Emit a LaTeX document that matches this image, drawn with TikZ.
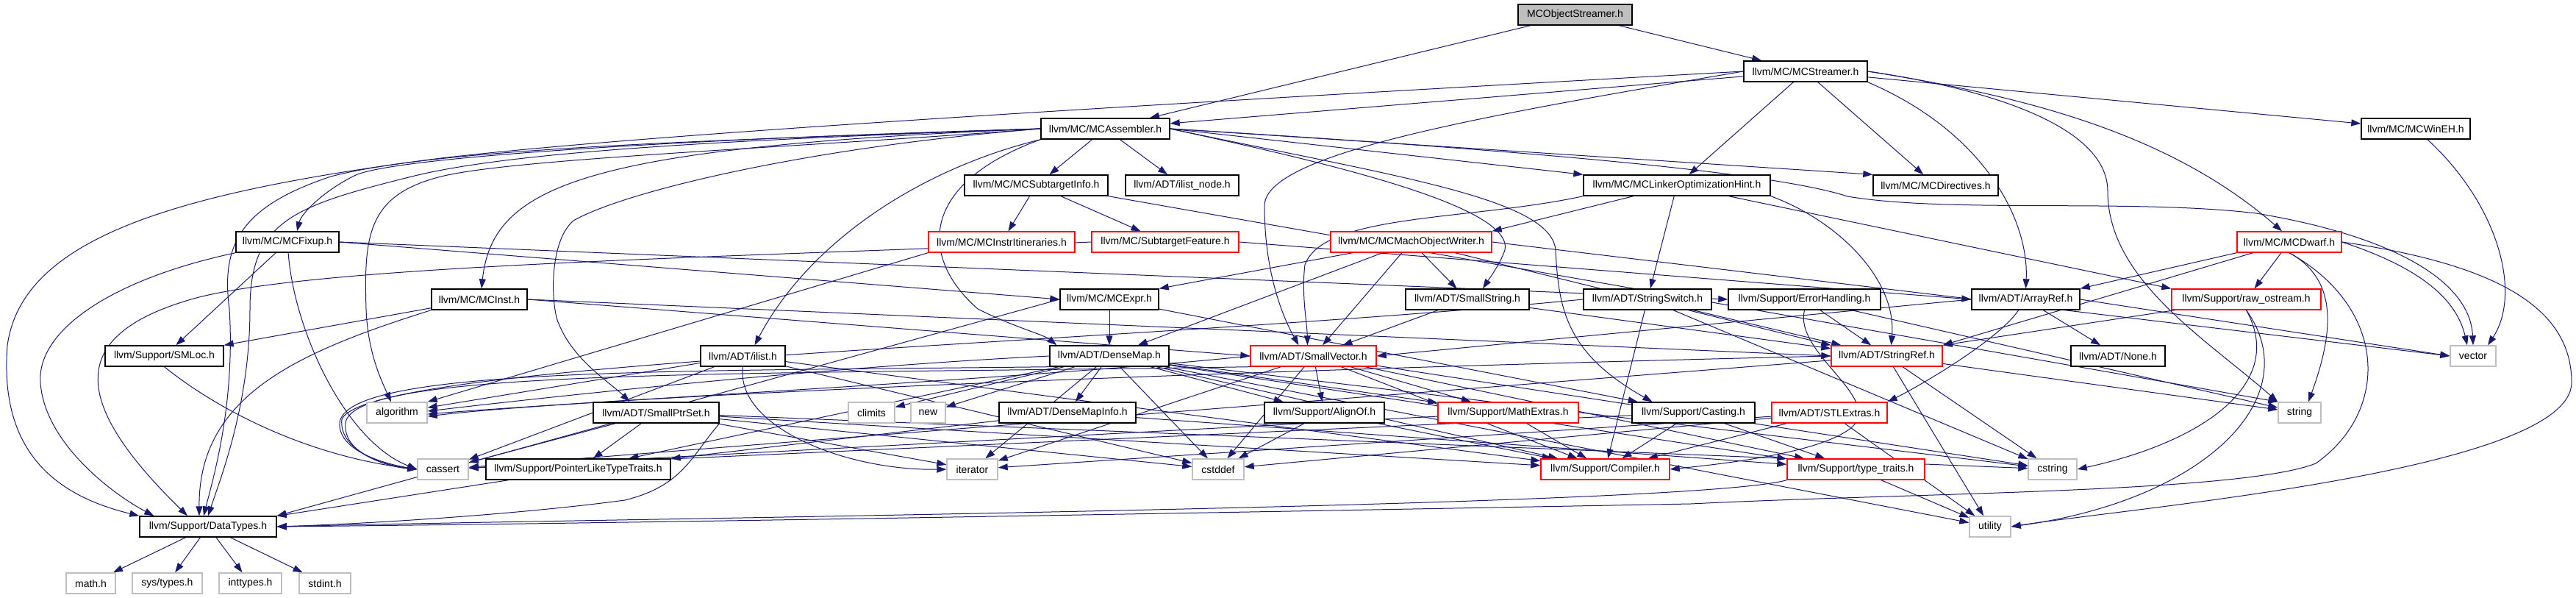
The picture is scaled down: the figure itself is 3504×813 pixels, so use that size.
\documentclass[tikz,border=0pt]{standalone}
\usepackage{fontspec}
\setmainfont{Liberation Sans}
\usetikzlibrary{arrows.meta,backgrounds}
\definecolor{edgecol}{HTML}{191970}
\definecolor{sysgray}{HTML}{BFBFBF}
\newcommand\mknode[7]{\node[#1, minimum width={(#4-#3)*1pt}, minimum height={(#6-#5)*1pt}] (#2) at ({(#3+#4)/2},{(#5+#6)/2}) {#7};}
\begin{document}
\begin{tikzpicture}[x=1pt,y=-1pt,
  box/.style={draw=black, fill=white, line width=1.4pt, inner sep=0pt, font=\fontsize{14}{16}\selectfont, text=black},
  redbox/.style={box, draw=red},
  sysbox/.style={box, draw=sysgray},
  rootbox/.style={box, fill=sysgray},
  edge/.style={draw=edgecol, line width=1pt, -{Triangle[length=13pt,width=9pt]}},
]
\useasboundingbox (0,0) rectangle (3504,813);
\mknode{rootbox}{root}{2065}{2220}{6}{34}{MCObjectStreamer.h}
\mknode{box}{strm}{2372}{2540}{83}{111}{llvm/MC/MCStreamer.h}
\mknode{box}{asm}{1416}{1591}{161}{189}{llvm/MC/MCAssembler.h}
\mknode{box}{wineh}{3212}{3360}{161}{189}{llvm/MC/MCWinEH.h}
\mknode{box}{loh}{2154}{2408}{238}{266}{llvm/MC/MCLinkerOptimizationHint.h}
\mknode{box}{dir}{2548}{2718}{238}{266}{llvm/MC/MCDirectives.h}
\mknode{box}{sti}{1312}{1507}{238}{266}{llvm/MC/MCSubtargetInfo.h}
\mknode{box}{ilnode}{1531}{1685}{238}{266}{llvm/ADT/ilist\_node.h}
\mknode{box}{fixup}{321}{461}{315}{343}{llvm/MC/MCFixup.h}
\mknode{redbox}{itin}{1263}{1462}{315}{343}{llvm/MC/MCInstrItineraries.h}
\mknode{redbox}{feat}{1485}{1685}{315}{343}{llvm/MC/SubtargetFeature.h}
\mknode{redbox}{macho}{1810}{2029}{315}{343}{llvm/MC/MCMachObjectWriter.h}
\mknode{redbox}{dwarf}{3043}{3185}{315}{343}{llvm/MC/MCDwarf.h}
\mknode{box}{inst}{587}{717}{393}{421}{llvm/MC/MCInst.h}
\mknode{box}{expr}{1442}{1576}{393}{421}{llvm/MC/MCExpr.h}
\mknode{box}{sstr}{1912}{2080}{393}{421}{llvm/ADT/SmallString.h}
\mknode{box}{sswitch}{2154}{2328}{393}{421}{llvm/ADT/StringSwitch.h}
\mknode{box}{err}{2351}{2558}{393}{421}{llvm/Support/ErrorHandling.h}
\mknode{box}{aref}{2682}{2829}{393}{421}{llvm/ADT/ArrayRef.h}
\mknode{redbox}{raw}{2954}{3157}{393}{421}{llvm/Support/raw\_ostream.h}
\mknode{box}{smloc}{143}{304}{470}{498}{llvm/Support/SMLoc.h}
\mknode{box}{ilist}{953}{1068}{470}{498}{llvm/ADT/ilist.h}
\mknode{box}{dmap}{1428}{1590}{470}{498}{llvm/ADT/DenseMap.h}
\mknode{redbox}{svec}{1701}{1872}{470}{498}{llvm/ADT/SmallVector.h}
\mknode{redbox}{sref}{2491}{2642}{470}{498}{llvm/ADT/StringRef.h}
\mknode{box}{none}{2817}{2945}{470}{498}{llvm/ADT/None.h}
\mknode{sysbox}{vector}{3333}{3395}{470}{498}{vector}
\mknode{sysbox}{algo}{499}{581}{547}{575}{algorithm}
\mknode{box}{sps}{807}{978}{547}{575}{llvm/ADT/SmallPtrSet.h}
\mknode{sysbox}{climits}{1154}{1217}{547}{575}{climits}
\mknode{sysbox}{new}{1239}{1286}{547}{575}{new}
\mknode{box}{dmi}{1359}{1545}{547}{575}{llvm/ADT/DenseMapInfo.h}
\mknode{box}{align}{1720}{1883}{547}{575}{llvm/Support/AlignOf.h}
\mknode{redbox}{mext}{1956}{2147}{547}{575}{llvm/Support/MathExtras.h}
\mknode{box}{cast}{2220}{2387}{547}{575}{llvm/Support/Casting.h}
\mknode{redbox}{stl}{2410}{2567}{547}{575}{llvm/ADT/STLExtras.h}
\mknode{sysbox}{string}{3099}{3157}{547}{575}{string}
\mknode{sysbox}{cassert}{568}{637}{624}{652}{cassert}
\mknode{box}{pltt}{661}{912}{624}{652}{llvm/Support/PointerLikeTypeTraits.h}
\mknode{sysbox}{iter}{1288}{1357}{624}{652}{iterator}
\mknode{sysbox}{cstddef}{1622}{1692}{624}{652}{cstddef}
\mknode{redbox}{comp}{2096}{2271}{624}{652}{llvm/Support/Compiler.h}
\mknode{redbox}{tt}{2431}{2618}{624}{652}{llvm/Support/type\_traits.h}
\mknode{sysbox}{cstring}{2759}{2825}{624}{652}{cstring}
\mknode{box}{dtypes}{190}{376}{702}{730}{llvm/Support/DataTypes.h}
\mknode{sysbox}{utility}{2679}{2735}{702}{730}{utility}
\mknode{sysbox}{math}{90}{157}{779}{807}{math.h}
\mknode{sysbox}{systypes}{180}{275}{779}{807}{sys/types.h}
\mknode{sysbox}{inttypes}{298}{383}{779}{807}{inttypes.h}
\mknode{sysbox}{stdint}{407}{477}{779}{807}{stdint.h}
\begin{scope}[on background layer]
% root
\draw[edge] (root) -- (asm);
\draw[edge] (root) -- (strm);
% MCStreamer
\draw[edge] (strm) -- (asm);
\draw[edge] (strm) -- (loh);
\draw[edge] (strm) -- (dir);
\draw[edge] (strm) -- (wineh);
\draw[edge] (strm.south east) .. controls (2700,180) and (2760,300) .. (aref.north);
\draw[edge] (strm.east) .. controls (2750,130) and (2950,180) .. ([xshift=-10pt]dwarf.north);
\draw[edge] (strm.west) .. controls (2000,160) and (1720,210) .. (1720,280) .. controls (1720,380) and (1750,440) .. ([xshift=-20pt]svec.north);
\draw[edge] (strm.east) .. controls (2700,120) and (2867,170) .. (2867,260) .. controls (2867,380) and (3000,460) .. (string.north west);
\draw[edge] (strm.west) .. controls (1600,140) and (900,180) .. (600,215) .. controls (250,260) and (30,320) .. (10,470) .. controls (0,600) and (60,670) .. (dtypes.north west);
% MCAssembler
\draw[edge] (asm) -- (sti);
\draw[edge] (asm) -- (ilnode);
\draw[edge] (asm.east) -- (loh.north west);
\draw[edge] (asm.east) -- (dir.north west);
\draw[edge] (asm.west) .. controls (1000,190) and (600,200) .. (450,240) .. controls (330,280) and (300,330) .. (312,420) .. controls (320,550) and (290,650) .. ([xshift=-6pt]dtypes.north);
\draw[edge] (asm.west) .. controls (1100,200) and (700,215) .. (600,240) .. controls (500,265) and (495,320) .. (498,420) .. controls (500,480) and (520,520) .. ([xshift=-8pt]algo.north);
\draw[edge] (asm.west) .. controls (900,190) and (520,215) .. (480,240) .. controls (440,260) and (410,290) .. ([xshift=13pt]fixup.north);
\draw[edge] (asm.west) .. controls (800,200) and (670,250) .. ([xshift=3pt]inst.north);
\draw[edge] (asm.west) .. controls (1100,200) and (850,260) .. (780,300) .. controls (745,330) and (750,420) .. (760,440) .. controls (780,490) and (830,520) .. ([xshift=-36pt]sps.north);
\draw[edge] (asm.south west) .. controls (1250,230) and (1100,330) .. ([xshift=16pt]ilist.north);
\draw[edge] (asm.south west) .. controls (1250,250) and (1250,350) .. (1330,420) .. controls (1380,445) and (1420,455) .. ([xshift=10pt]dmap.north west);
\draw[edge] (asm.east) .. controls (1800,220) and (2060,280) .. (2047,340) .. controls (2040,360) and (2025,380) .. ([xshift=21pt]sstr.north);
\draw[edge] (asm.east) .. controls (1900,240) and (2110,270) .. (2116,340) .. controls (2120,420) and (2130,480) .. ([xshift=-56pt]cast.north);
\draw[edge] (asm.east) .. controls (2000,200) and (2400,230) .. (2513,267) .. controls (2650,290) and (2900,270) .. (3069,290) .. controls (3250,320) and (3360,380) .. (vector.north);
\draw[edge] (asm.west) .. controls (1000,190) and (700,205) .. (560,240) .. controls (400,280) and (340,300) .. (340,420) .. controls (340,550) and (300,650) .. (dtypes.north);
% MCWinEH
\draw[edge] (wineh) .. controls (3400,280) and (3430,400) .. ([xshift=20pt]vector.north);
% MCDwarf
\draw[edge] (dwarf.south west) -- (aref.north east);
\draw[edge] (dwarf) -- (sref.north east);
\draw[edge] (dwarf) -- (raw);
\draw[edge] (dwarf.south) .. controls (3180,380) and (3175,450) .. ([xshift=12pt]string.north);
\draw[edge] (dwarf.east) .. controls (3280,360) and (3340,400) .. ([xshift=-8pt]vector.north);
\draw[edge] (dwarf.east) .. controls (3400,360) and (3498,420) .. (3498,520) .. controls (3498,640) and (2900,690) .. (utility.east);
\draw[edge] (dwarf.south) .. controls (3250,420) and (3250,560) .. (3150,630) .. controls (3050,670) and (2600,670) .. (2300,685) .. controls (1500,700) and (800,712) .. (dtypes.east);
% MCLinkerOptimizationHint
\draw[edge] (loh) -- (macho.north east);
\draw[edge] (loh) -- (sswitch);
\draw[edge] (loh) -- (raw.north west);
\draw[edge] (loh.south west) .. controls (2000,300) and (1800,290) .. (1775,360) .. controls (1770,400) and (1778,440) .. ([xshift=-8pt]svec.north);
\draw[edge] (loh.south east) .. controls (2500,300) and (2580,380) .. ([xshift=6pt]sref.north);
% MCSubtargetInfo
\draw[edge] (sti) -- (itin);
\draw[edge] (sti) -- (feat);
\draw[edge] (sti.south east) -- (string.north west);
% MCFixup
\draw[edge] (fixup.east) -- (expr.west);
\draw[edge] (fixup.east) -- (err.west);
\draw[edge] (fixup) -- (smloc);
\draw[edge] (fixup) .. controls (400,450) and (470,600) .. (cassert.west);
\draw[edge] (fixup.south west) .. controls (150,380) and (50,450) .. (55,520) .. controls (60,600) and (150,670) .. ([xshift=20pt]dtypes.north west);
% MCInst
\draw[edge] (inst) -- (smloc.north east);
\draw[edge] (inst.east) -- (svec.west);
\draw[edge] (inst.east) -- (sref.west);
\draw[edge] (inst.south west) .. controls (400,480) and (270,540) .. ([xshift=-12pt]dtypes.north);
% others
\draw[edge] (itin.south west) -- (algo.north east);
\draw[edge] (feat.west) .. controls (1000,350) and (400,360) .. (250,410) .. controls (90,460) and (100,550) .. ([xshift=-28pt]dtypes.north);
\draw[edge] (feat.east) -- (aref.west);
\draw[edge] (macho) -- (expr.north east);
\draw[edge] (macho) -- (dmap);
\draw[edge] (macho) -- (sstr);
\draw[edge] (macho) -- (svec);
\draw[edge] (macho) -- (sref.north west);
\draw[edge] (macho.east) -- (vector.west);
\draw[edge] (expr) -- (dmap);
\draw[edge] (expr) -- (cast);
\draw[edge] (expr.west) -- (dtypes.north east);
\draw[edge] (sstr) -- (svec);
\draw[edge] (sstr) -- (sref);
\draw[edge] (sswitch) -- (sref);
\draw[edge] (sswitch) -- (comp);
\draw[edge] (sswitch.west) .. controls (1500,470) and (500,490) .. (465,570) .. controls (460,610) and (520,634) .. (cassert.west);
\draw[edge] (sswitch) -- (cstring);
\draw[edge] (err) -- (sref);
\draw[edge] (err.south) .. controls (2440,480) and (2560,540) .. (2520,580) .. controls (2480,615) and (2350,630) .. (comp.east);
\draw[edge] (err) -- (string);
\draw[edge] (aref) -- (none);
\draw[edge] (aref.west) -- (svec.east);
\draw[edge] (aref) .. controls (2720,460) and (2620,520) .. (stl.north east);
\draw[edge] (aref.east) -- (vector.west);
\draw[edge] (raw) -- (sref.north east);
\draw[edge] (raw.south) .. controls (3110,520) and (3000,600) .. (cstring.east);
\draw[edge] (raw.south) .. controls (3140,540) and (3000,680) .. (utility.east);
\draw[edge] (smloc.south) .. controls (300,560) and (420,620) .. (cassert.west);
% ilist
\draw[edge] (ilist) -- (algo);
\draw[edge] (ilist) -- (cassert);
\draw[edge] (ilist) -- (cstddef);
\draw[edge] (ilist.south) .. controls (1000,580) and (1150,640) .. (iter.west);
\draw[edge] (ilist) -- (comp);
% DenseMap
\draw[edge] (dmap) -- (dmi);
\draw[edge] (dmap) -- (align);
\draw[edge] (dmap) -- (mext);
\draw[edge] (dmap) -- (pltt);
\draw[edge] (dmap) -- (comp);
\draw[edge] (dmap) -- (tt);
\draw[edge] (dmap.west) .. controls (1100,500) and (700,545) .. ([yshift=2pt]algo.east);
\draw[edge] (dmap.south west) .. controls (900,505) and (470,500) .. (462,575) .. controls (460,612) and (520,630) .. (cassert.west);
\draw[edge] (dmap) -- (climits);
\draw[edge] (dmap) -- (cstddef);
\draw[edge] (dmap) -- (cstring);
\draw[edge] (dmap) -- (iter);
\draw[edge] (dmap) -- (new);
\draw[edge] (dmap) -- (utility);
% SmallVector
\draw[edge] (svec) -- (align);
\draw[edge] (svec) -- (comp);
\draw[edge] (svec) -- (mext);
\draw[edge] (svec) -- (tt);
\draw[edge] (svec.west) .. controls (1400,515) and (800,545) .. ([yshift=-2pt]algo.east);
\draw[edge] (svec.south west) .. controls (1000,510) and (480,500) .. (470,575) .. controls (466,615) and (520,632) .. (cassert.west);
\draw[edge] (svec) -- (cstddef);
\draw[edge] (svec) -- (cstring);
\draw[edge] (svec) -- (iter);
% StringRef
\draw[edge] (sref.west) .. controls (1600,505) and (800,540) .. ([yshift=-5pt]algo.east);
\draw[edge] (sref) -- (cassert);
\draw[edge] (sref) -- (cstring);
\draw[edge] (sref) -- (string);
\draw[edge] (sref) -- (utility);
% SmallPtrSet
\draw[edge] (sps) -- (comp);
\draw[edge] (sps) -- (pltt);
\draw[edge] (sps) -- (cassert);
\draw[edge] (sps) -- (cstddef);
\draw[edge] (sps) -- (cstring);
\draw[edge] (sps) -- (iter);
\draw[edge] (sps.south east) .. controls (940,620) and (930,660) .. (850,680) .. controls (700,700) and (500,712) .. (dtypes.east);
% lower
\draw[edge] (dmi) -- (pltt);
\draw[edge] (dmi) -- (tt);
\draw[edge] (align) -- (comp);
\draw[edge] (align) -- (cstddef);
\draw[edge] (mext) -- (comp);
\draw[edge] (mext) -- (cassert);
\draw[edge] (cast) -- (comp);
\draw[edge] (cast) -- (tt);
\draw[edge] (cast) -- (cassert);
\draw[edge] (stl) -- (comp);
\draw[edge] (stl) -- (cstddef);
\draw[edge] (stl) -- (iter);
\draw[edge] (stl) -- (utility);
\draw[edge] (pltt) -- (dtypes);
\draw[edge] (tt) -- (utility);
\draw[edge] (tt.south west) .. controls (2300,690) and (800,705) .. (dtypes.east);
\draw[edge] (dtypes) -- (math);
\draw[edge] (dtypes) -- (systypes);
\draw[edge] (dtypes) -- (inttypes);
\draw[edge] (dtypes) -- (stdint);
\end{scope}
\end{tikzpicture}
\end{document}
